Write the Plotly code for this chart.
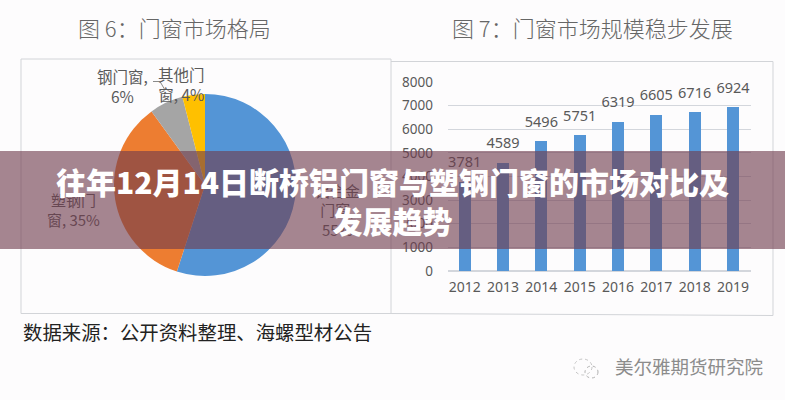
import plotly.graph_objects as go

CJK = "Noto Sans CJK SC"

pie_labels = ["铝合金门窗", "塑钢门窗", "钢门窗", "其他门窗"]
pie_values = [55, 35, 6, 4]
pie_colors = ["#5495D6", "#ED7D31", "#A5A5A5", "#FFC000"]
pie_text = [" <br>铝合金<br>门窗,<br>55%", " <br>塑钢门<br>窗, 35%", "", ""]

years = ["2012", "2013", "2014", "2015", "2016", "2017", "2018", "2019"]
market = [3781, 4589, 5496, 5751, 6319, 6605, 6716, 6924]
market_text = ["3781", "4589", "5496", "5751", "6319", "6605", "6716", "6924"]
y_ticks = [0, 1000, 2000, 3000, 4000, 5000, 6000, 7000, 8000]

W, H = 785, 400
def px(x): return x / W
def py(y): return 1 - y / H

def pixel_path(points, closed=False):
    parts = [("M" if i == 0 else "L") + f" {px(x):.5f} {py(y):.5f}" for i, (x, y) in enumerate(points)]
    return " ".join(parts) + (" Z" if closed else "")

fig = go.Figure()

fig.add_trace(go.Pie(
    labels=pie_labels, values=pie_values, sort=False, direction="clockwise", rotation=0,
    marker=dict(colors=pie_colors, line=dict(width=0)),
    text=pie_text, textinfo="text", textposition="outside",
    outsidetextfont=dict(family=CJK, size=15, color="#5A5A5A"),
    domain=dict(x=[px(114), px(296)], y=[py(276), py(94)]),
    showlegend=False, hoverinfo="label+percent",
))

fig.add_trace(go.Bar(x=years, y=market, width=0.32, marker=dict(color="#5495D6", line=dict(width=0)),
                     showlegend=False))
fig.add_trace(go.Scatter(x=years, y=market, text=market_text, mode="markers+text",
                         textposition="top center",
                         marker=dict(size=16, color="rgba(0,0,0,0)"),
                         textfont=dict(family="Noto Sans", size=14.5, color="#595959"),
                         showlegend=False, cliponaxis=False, hoverinfo="skip"))

frame = "#D2D4D8"
def circle(x0, x1, y0, y1, color):
    return dict(type="circle", xref="paper", yref="paper", x0=px(x0), x1=px(x1), y0=py(y0), y1=py(y1),
                line=dict(color=color, width=1, dash="dot"), layer="below")

shapes = [
    dict(type="path", path=pixel_path([(21, 313.5), (21, 59), (391, 59), (391, 313.5)], True),
         xref="paper", yref="paper", line=dict(color=frame, width=1), layer="below"),
    dict(type="path", path=pixel_path([(391, 61.5), (773, 61.5), (773, 315.5), (391, 313.5)]),
         xref="paper", yref="paper", line=dict(color=frame, width=1), layer="below"),
    dict(type="path", path=pixel_path([(153, 81.5), (160, 81.5), (165, 90)]),
         xref="paper", yref="paper", line=dict(color="#8A8A8A", width=1), layer="below"),
    circle(574, 592, 359, 375, "#C4C4C4"),
    circle(585, 598, 366, 378, "#B0B0B0"),
    dict(type="rect", xref="paper", yref="paper", x0=0, x1=1, y0=py(249), y1=py(151),
         fillcolor="rgba(112,60,78,0.62)", line=dict(width=0), layer="above"),
]

def note(text, x, y, size, color, anchor="center", weight=400):
    return dict(text=text, xref="paper", yref="paper", x=px(x), y=py(y), xanchor=anchor, yanchor="middle",
                showarrow=False, align="center" if anchor == "center" else "left",
                font=dict(family=CJK, size=size, color=color, weight=weight))

annotations = [
    note("图 6：门窗市场格局", 174, 27, 22, "#666666", weight=300),
    note("图 7：门窗市场规模稳步发展", 592.5, 27, 22, "#666666", weight=300),
    note("钢门窗,<br>6%", 122, 86, 15.5, "#5A5A5A"),
    note("其他门<br>窗, 4%", 181, 84, 15.5, "#5A5A5A"),
    note("数据来源：公开资料整理、海螺型材公告", 21, 331, 19.4, "#222222", "left"),
    note("美尔雅期货研究院", 613, 366, 18.5, "#8C8C8C", "left"),
    note("往年12月14日断桥铝门窗与塑钢门窗的市场对比及<br>发展趋势", 392.5, 201, 30, "#FFFFFF", weight=900),
]

grid = "#D3D6DC"
fig.update_layout(
    width=W, height=H, margin=dict(l=0, r=0, t=0, b=0, autoexpand=False),
    paper_bgcolor="#FDFCFD", plot_bgcolor="rgba(0,0,0,0)",
    shapes=shapes, annotations=annotations, bargap=0,
    xaxis=dict(domain=[px(448), px(751)], range=[-0.436, 7.47], type="category", anchor="y",
               showgrid=False, showline=False, ticks="", zeroline=False,
               tickfont=dict(family="Noto Sans", size=14, color="#595959"), ticklabelstandoff=6),
    yaxis=dict(domain=[py(271), py(82)], range=[0, 8000], tickvals=y_ticks,
               showgrid=True, gridcolor=grid, gridwidth=1, zeroline=True, zerolinecolor=grid,
               showline=False, ticks="", anchor="x",
               tickfont=dict(family="Noto Sans", size=13.5, color="#595959"), ticklabelstandoff=14),
)
fig.write_html("out.html", config={"displayModeBar": False},
               post_script="document.body.style.margin='0';document.documentElement.style.overflow='hidden';")
